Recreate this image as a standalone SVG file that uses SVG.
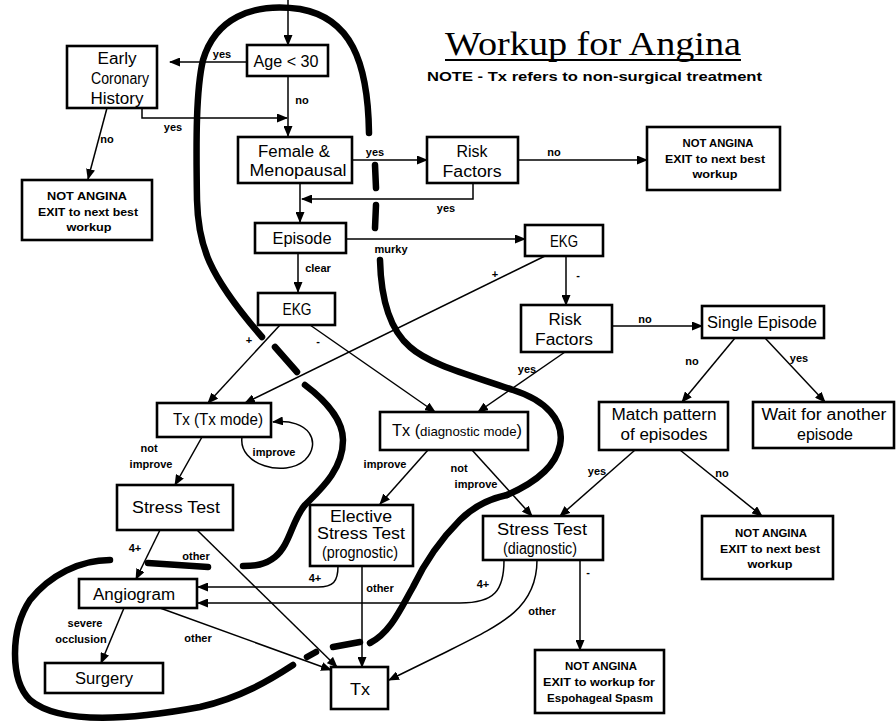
<svg xmlns="http://www.w3.org/2000/svg" width="896" height="721" viewBox="0 0 896 721">
<defs>
<marker id="ah" markerUnits="userSpaceOnUse" markerWidth="11" markerHeight="9" refX="10" refY="4.5" orient="auto">
<path d="M0,0 L11,4.5 L0,9 z" fill="#000"/>
</marker>
<style>
.box{fill:#fff;stroke:#000;stroke-width:2.6}
.c{fill:none;stroke:#000;stroke-width:1.5;marker-end:url(#ah)}
.k{fill:none;stroke:#000;stroke-width:6.5;stroke-linecap:round;stroke-linejoin:round}
.t{font-family:"Liberation Sans",Arial,sans-serif;font-size:16px;text-anchor:middle;fill:#000}
.s{font-family:"Liberation Sans",Arial,sans-serif;font-size:11px;font-weight:bold;text-anchor:middle;fill:#000}
.l{font-family:"Liberation Sans",Arial,sans-serif;font-size:11px;font-weight:bold;text-anchor:middle;fill:#000}
</style>
</defs>
<rect width="896" height="721" fill="#fff"/>

<g id="title">
<text x="445" y="55" font-family="Liberation Serif,'Times New Roman',serif" font-size="33" textLength="296" lengthAdjust="spacingAndGlyphs">Workup for Angina</text>
<line x1="445" y1="60" x2="741" y2="60" stroke="#000" stroke-width="2"/>
<text x="427" y="81" font-family="Liberation Sans,Arial,sans-serif" font-size="12" font-weight="bold" textLength="335" lengthAdjust="spacingAndGlyphs">NOTE - Tx refers to non-surgical treatment</text>
</g>

<g id="boundary">
<path class="k" d="M369,133 C368,60 350,18 300,9 C250,2 215,20 203,60 C196,90 196,140 197,200 C198,245 208,275 262,337"/>
<path class="k" d="M275,347 L297,372"/>
<path class="k" d="M305,385 C325,400 343,420 343,440 C343,470 320,490 305,505 C292,520 290,545 275,557 C265,565 255,566 243,566"/>
<path class="k" d="M148,563 L208,567"/>
<path class="k" d="M110,560 C80,560 50,575 30,600 C10,630 10,680 30,700 C60,725 130,720 200,707 C240,698 270,680 293,665"/>
<path class="k" d="M307,657 L316,652"/>
<path class="k" d="M333,647 L360,642"/>
<path class="k" d="M370,643 C390,633 400,610 413,587 C425,562 440,540 460,520 C475,505 493,498 507,495"/>
<path class="k" d="M507,495 C530,485 555,470 560,445 C565,420 545,400 513,390 C470,375 430,365 410,347 C390,330 381,300 380,260"/>
<path class="k" d="M375,228 L376,205 M376,188 L375,165"/>
</g>

<g id="connectors">
<path class="c" d="M288,0 L288,45"/>
<path class="c" d="M247,62 L170,62"/>
<path class="c" d="M288,76 L288,136"/>
<path class="c" d="M142,108 L142,118 L287,118"/>
<path class="c" d="M107,108 L88,179"/>
<path class="c" d="M352,160 L427,160"/>
<path class="c" d="M518,160 L647,160"/>
<path class="c" d="M473,183 L473,199 L302,199"/>
<path class="c" d="M300,183 L300,222"/>
<path class="c" d="M346,239 L525,239"/>
<path class="c" d="M298,253 L298,292"/>
<path class="c" d="M280,325 L208,403"/>
<path class="c" d="M310,325 L435,412"/>
<path class="c" d="M545,256 L245,403"/>
<path class="c" d="M566,256 L566,305"/>
<path class="c" d="M612,326 L702,326"/>
<path class="c" d="M565,352 L478,412"/>
<path class="c" d="M735,338 L682,402"/>
<path class="c" d="M765,338 L825,402"/>
<path class="c" d="M635,450 L560,516"/>
<path class="c" d="M680,450 L762,516"/>
<path class="c" d="M428,450 L380,504"/>
<path class="c" d="M472,450 L532,516"/>
<path class="c" d="M580,560 L580,650"/>
<path class="c" d="M504,560 C504,590 495,603 460,603 L198,603"/>
<path class="c" d="M537,560 C537,610 500,625 440,655 L389,680"/>
<path class="c" d="M338,566 C338,582 333,587 318,587 L198,587"/>
<path class="c" d="M362,566 L362,667"/>
<path class="c" d="M202,437 L175,485"/>
<path class="c" d="M242,437 C238,465 285,478 305,460 C322,443 310,418 273,422"/>
<path class="c" d="M160,530 L136,579"/>
<path class="c" d="M197,530 L337,667"/>
<path class="c" d="M124,608 L101,663"/>
<path class="c" d="M160,608 L331,670"/>
</g>

<g id="edge-labels">
<text class="l" x="222" y="58">yes</text>
<text class="l" x="302" y="104">no</text>
<text class="l" x="173" y="131">yes</text>
<text class="l" x="107" y="143">no</text>
<text class="l" x="375" y="156">yes</text>
<text class="l" x="554" y="156">no</text>
<text class="l" x="446" y="212">yes</text>
<text class="l" x="391" y="253">murky</text>
<text class="l" x="318" y="272">clear</text>
<text class="l" x="249" y="344">+</text>
<text class="l" x="318" y="345">-</text>
<text class="l" x="495" y="278">+</text>
<text class="l" x="578" y="279">-</text>
<text class="l" x="645" y="323">no</text>
<text class="l" x="527" y="373">yes</text>
<text class="l" x="692" y="365">no</text>
<text class="l" x="799" y="362">yes</text>
<text class="l" x="597" y="475">yes</text>
<text class="l" x="722" y="477">no</text>
<text class="l" x="385" y="468">improve</text>
<text class="l" x="459" y="472">not</text>
<text class="l" x="476" y="488">improve</text>
<text class="l" x="149" y="452">not</text>
<text class="l" x="151" y="468">improve</text>
<text class="l" x="274" y="456">improve</text>
<text class="l" x="588" y="576">-</text>
<text class="l" x="483" y="588">4+</text>
<text class="l" x="542" y="615">other</text>
<text class="l" x="315" y="582">4+</text>
<text class="l" x="380" y="592">other</text>
<text class="l" x="135" y="552">4+</text>
<text class="l" x="196" y="560">other</text>
<text class="l" x="85" y="627">severe</text>
<text class="l" x="81" y="643">occlusion</text>
<text class="l" x="198" y="642">other</text>
</g>

<g id="age"><rect class="box" x="247" y="45" width="81" height="31"/><text class="t" x="286" y="67" textLength="65" lengthAdjust="spacingAndGlyphs">Age &lt; 30</text></g>
<g id="early"><rect class="box" x="67" y="46" width="90" height="62"/>
<text class="t" x="117" y="64" textLength="39" lengthAdjust="spacingAndGlyphs">Early</text>
<text class="t" x="120" y="84" textLength="58" lengthAdjust="spacingAndGlyphs">Coronary</text>
<text class="t" x="117" y="104" textLength="53" lengthAdjust="spacingAndGlyphs">History</text></g>
<g id="notangina1"><rect class="box" x="22" y="180" width="130" height="60"/>
<text class="s" x="87" y="200" textLength="80" lengthAdjust="spacingAndGlyphs">NOT ANGINA</text>
<text class="s" x="88" y="216" textLength="100" lengthAdjust="spacingAndGlyphs">EXIT to next best</text>
<text class="s" x="89" y="231" textLength="45" lengthAdjust="spacingAndGlyphs">workup</text></g>
<g id="female"><rect class="box" x="238" y="137" width="114" height="46"/>
<text class="t" x="294" y="157" textLength="72" lengthAdjust="spacingAndGlyphs">Female &amp;</text>
<text class="t" x="298" y="176" textLength="97" lengthAdjust="spacingAndGlyphs">Menopausal</text></g>
<g id="risk1"><rect class="box" x="427" y="137" width="91" height="46"/>
<text class="t" x="472" y="157" textLength="31" lengthAdjust="spacingAndGlyphs">Risk</text>
<text class="t" x="472" y="177" textLength="59" lengthAdjust="spacingAndGlyphs">Factors</text></g>
<g id="notangina2"><rect class="box" x="647" y="127" width="133" height="63"/>
<text class="s" x="718" y="147" textLength="71" lengthAdjust="spacingAndGlyphs">NOT ANGINA</text>
<text class="s" x="715" y="163" textLength="100" lengthAdjust="spacingAndGlyphs">EXIT to next best</text>
<text class="s" x="715" y="178" textLength="45" lengthAdjust="spacingAndGlyphs">workup</text></g>
<g id="episode"><rect class="box" x="255" y="223" width="91" height="30"/>
<text class="t" x="302" y="244" textLength="59" lengthAdjust="spacingAndGlyphs">Episode</text></g>
<g id="ekg2"><rect class="box" x="525" y="225" width="78" height="31"/>
<text class="t" x="564" y="247" textLength="28" lengthAdjust="spacingAndGlyphs">EKG</text></g>
<g id="ekg1"><rect class="box" x="258" y="293" width="77" height="32"/>
<text class="t" x="297" y="315" textLength="29" lengthAdjust="spacingAndGlyphs">EKG</text></g>
<g id="risk2"><rect class="box" x="521" y="305" width="91" height="47"/>
<text class="t" x="565" y="325" textLength="33" lengthAdjust="spacingAndGlyphs">Risk</text>
<text class="t" x="564" y="345" textLength="58" lengthAdjust="spacingAndGlyphs">Factors</text></g>
<g id="single"><rect class="box" x="702" y="306" width="122" height="32"/>
<text class="t" x="762" y="328" textLength="110" lengthAdjust="spacingAndGlyphs">Single Episode</text></g>
<g id="match"><rect class="box" x="599" y="402" width="129" height="48"/>
<text class="t" x="664" y="420" textLength="105" lengthAdjust="spacingAndGlyphs">Match pattern</text>
<text class="t" x="664" y="440" textLength="87" lengthAdjust="spacingAndGlyphs">of episodes</text></g>
<g id="wait"><rect class="box" x="753" y="402" width="141" height="46"/>
<text class="t" x="824" y="420" textLength="125" lengthAdjust="spacingAndGlyphs">Wait for another</text>
<text class="t" x="825" y="440" textLength="56" lengthAdjust="spacingAndGlyphs">episode</text></g>
<g id="txmode"><rect class="box" x="157" y="403" width="114" height="34"/>
<text class="t" x="218" y="425" font-size="15" textLength="90" lengthAdjust="spacingAndGlyphs">Tx (Tx mode)</text></g>
<g id="txdiag"><rect class="box" x="380" y="412" width="148" height="38"/>
<text class="t" x="457" y="436" textLength="130" lengthAdjust="spacingAndGlyphs">Tx (<tspan font-size="13">diagnostic mode</tspan>)</text></g>
<g id="stress1"><rect class="box" x="117" y="485" width="116" height="45"/>
<text class="t" x="176" y="513" textLength="88" lengthAdjust="spacingAndGlyphs">Stress Test</text></g>
<g id="elective"><rect class="box" x="310" y="505" width="103" height="61"/>
<text class="t" x="361" y="522" font-size="15" textLength="62" lengthAdjust="spacingAndGlyphs">Elective</text>
<text class="t" x="361" y="539" font-size="15" textLength="88" lengthAdjust="spacingAndGlyphs">Stress Test</text>
<text class="t" x="360" y="558" font-size="13" textLength="76" lengthAdjust="spacingAndGlyphs">(prognostic)</text></g>
<g id="stress2"><rect class="box" x="483" y="516" width="120" height="44"/>
<text class="t" x="542" y="535" textLength="90" lengthAdjust="spacingAndGlyphs">Stress Test</text>
<text class="t" x="540" y="554" font-size="14" textLength="74" lengthAdjust="spacingAndGlyphs">(diagnostic)</text></g>
<g id="notangina3"><rect class="box" x="702" y="516" width="131" height="63"/>
<text class="s" x="771" y="537" textLength="72" lengthAdjust="spacingAndGlyphs">NOT ANGINA</text>
<text class="s" x="770" y="553" textLength="100" lengthAdjust="spacingAndGlyphs">EXIT to next best</text>
<text class="s" x="770" y="568" textLength="45" lengthAdjust="spacingAndGlyphs">workup</text></g>
<g id="angiogram"><rect class="box" x="79" y="579" width="118" height="29"/>
<text class="t" x="134" y="600" textLength="82" lengthAdjust="spacingAndGlyphs">Angiogram</text></g>
<g id="surgery"><rect class="box" x="45" y="663" width="118" height="30"/>
<text class="t" x="104" y="684" textLength="58" lengthAdjust="spacingAndGlyphs">Surgery</text></g>
<g id="tx"><rect class="box" x="331" y="667" width="57" height="42"/>
<text class="t" x="360" y="695" textLength="20" lengthAdjust="spacingAndGlyphs">Tx</text></g>
<g id="notangina4"><rect class="box" x="535" y="650" width="129" height="63"/>
<text class="s" x="601" y="670" textLength="72" lengthAdjust="spacingAndGlyphs">NOT ANGINA</text>
<text class="s" x="599" y="686" textLength="112" lengthAdjust="spacingAndGlyphs">EXIT to workup for</text>
<text class="s" x="600" y="702" textLength="106" lengthAdjust="spacingAndGlyphs">Espohageal Spasm</text></g>
</svg>
